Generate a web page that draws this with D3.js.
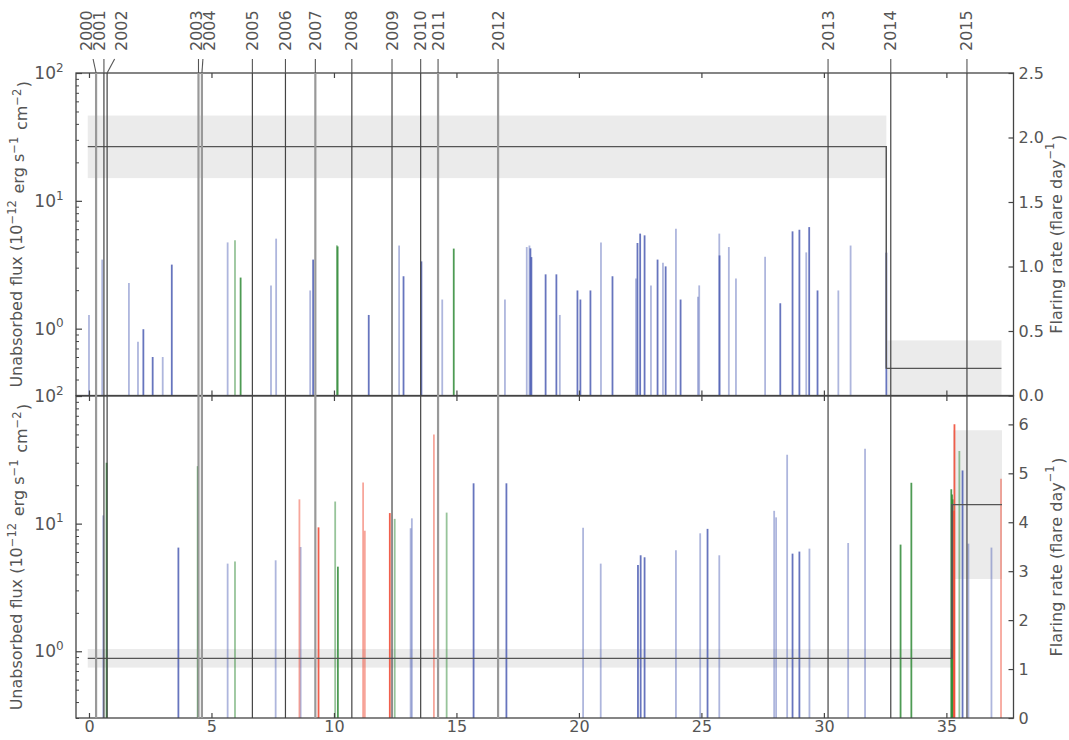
<!DOCTYPE html>
<html>
<head>
<meta charset="utf-8">
<script src="https://cdn.jsdelivr.net/npm/d3@7"></script>
<style>
  body { margin: 0; background: #fff; }
  text { font-family: "DejaVu Sans", sans-serif; fill: #555; }
</style>
</head>
<body>
<svg id="chart" width="1069" height="740"></svg>
<script>
// observation epochs (position on the concatenated time axis, days)
var years = [2000, 2001, 2002, 2003, 2004, 2005, 2006, 2007, 2008, 2009, 2010, 2011, 2012, 2013, 2014, 2015];
var yearT = [0.29, 0.61, 0.74, 4.47, 4.61, 6.67, 8.02, 9.24, 10.73, 12.37, 13.54, 14.25, 16.70, 30.17, 32.73, 35.84];

// top panel flares: [time, flux]
var topBlueFaint = [[0.0, 1.28], [0.54, 3.47], [1.63, 2.28], [2.0, 0.79], [3.01, 0.60], [5.66, 4.73], [7.43, 2.18],
  [7.64, 5.06], [9.03, 1.99], [12.66, 4.47], [14.42, 1.69], [16.98, 1.69], [17.87, 4.35], [17.98, 4.47], [19.22, 1.28],
  [20.9, 4.73], [22.33, 2.47], [22.94, 2.18], [23.43, 3.28], [23.96, 6.05], [24.86, 1.78], [24.91, 2.18], [25.73, 5.54],
  [26.12, 4.35], [26.41, 2.47], [27.6, 3.65], [29.28, 3.95], [30.59, 1.99], [31.09, 4.47]];
var topBlue = [[2.22, 0.99], [2.6, 0.60], [3.38, 3.17], [9.15, 3.47], [11.42, 1.28], [12.84, 2.57], [13.57, 3.36],
  [18.02, 4.25], [18.06, 3.63], [18.64, 2.66], [19.08, 2.66], [19.94, 1.99], [20.06, 1.69], [20.47, 1.99], [21.37, 2.57],
  [22.39, 4.68], [22.5, 5.54], [22.68, 5.37], [23.21, 3.47], [23.54, 3.07], [24.15, 1.69], [25.74, 3.74], [28.22, 1.58],
  [28.72, 5.77], [29.0, 5.94], [29.4, 6.23], [29.74, 1.99], [32.55, 3.93]];
var topGreenFaint = [[5.96, 4.91], [10.12, 4.49]];
var topGreen = [[6.19, 2.51], [10.15, 4.40], [14.89, 4.23]];

// bottom panel flares: [time, flux]
var botBlueFaint = [[0.58, 11.6], [5.66, 4.86], [7.62, 5.16], [8.64, 6.56], [13.13, 9.2], [13.18, 11.0], [20.17, 9.3],
  [20.89, 4.86], [23.96, 6.18], [24.95, 8.4], [25.73, 5.65], [27.97, 12.6], [28.05, 11.2], [28.5, 34.7], [29.41, 6.37],
  [30.99, 7.05], [31.68, 38.6], [35.9, 6.97], [36.84, 6.49]];
var botBlue = [[3.65, 6.49], [15.7, 20.7], [17.04, 20.7], [22.41, 4.74], [22.52, 5.65], [22.68, 5.45], [25.25, 9.1],
  [28.72, 5.82], [29.0, 6.04], [35.66, 26.1]];
var botGreenFaint = [[5.96, 5.04], [10.05, 14.9], [12.48, 10.9], [14.6, 12.2], [35.53, 37.0]];
var botGreen = [[0.72, 30.0], [4.44, 28.2], [10.16, 4.6], [33.13, 6.85], [33.57, 20.9], [35.2, 18.6], [35.23, 16.9], [35.26, 15.5]];
var botRedFaint = [[8.59, 15.5], [11.19, 21.0], [11.26, 8.8], [14.08, 50.0], [37.23, 22.5]];
var botRed = [[9.37, 9.35], [12.28, 12.1], [35.31, 12.6], [35.33, 60.0]];

// flaring rate steps (edges, rate, band low/high)
var topRateEdges = [-0.05, 32.55, 37.25];
var topRate = [1.93, 0.21];
var topRateLo = [1.685, 0];
var topRateHi = [2.17, 0.427];
var botRateEdges = [-0.05, 35.23, 37.27];
var botRate = [1.22, 4.36];
var botRateLo = [1.03, 2.84];
var botRateHi = [1.41, 5.88];

var xTicks = [0, 5, 10, 15, 20, 25, 30, 35];
var topRateTicks = [0, 0.5, 1.0, 1.5, 2.0, 2.5];
var botRateTicks = [0, 1, 2, 3, 4, 5, 6];

var svg = d3.select("#chart");
var left = 76, right = 1013.5;
var x = d3.scaleLinear().domain([-0.53, 37.74]).range([left, right]);

var greyYears = [2000, 2003, 2004, 2007, 2011, 2012];
var labelNudge = {2000: -9.5, 2001: -4, 2002: 14, 2003: -2, 2004: 7.5};

function sup(sel, txt) {
  sel.append("tspan").attr("dy", "-0.55em").style("font-size", "0.72em").text(txt);
  sel.append("tspan").attr("dy", "0.55em").text("\u200a");
}

function drawPanel(top, bottom, rateMax, rateTicks, rateFmt, edges, rate, lo, hi, series) {
  var y = d3.scaleLog().domain([0.3, 100]).range([bottom, top]);
  var yr = d3.scaleLinear().domain([0, rateMax]).range([bottom, top]);
  var g = svg.append("g");

  // uncertainty bands of the rate
  for (var i = 0; i < rate.length; i++) {
    g.append("rect")
      .attr("x", x(edges[i]) + (i ? 1 : 0))
      .attr("width", x(edges[i + 1]) - x(edges[i]) - (i ? 1 : 0))
      .attr("y", yr(Math.min(hi[i], rateMax)))
      .attr("height", yr(lo[i]) - yr(Math.min(hi[i], rateMax)))
      .attr("fill", "#ebebeb");
  }

  // flares
  series.forEach(function(s) {
    g.selectAll(null).data(s.data).enter().append("line")
      .attr("x1", function(d) { return x(d[0]); })
      .attr("x2", function(d) { return x(d[0]); })
      .attr("y1", bottom)
      .attr("y2", function(d) { return y(d[1]); })
      .attr("stroke", s.color)
      .attr("stroke-opacity", s.op)
      .attr("stroke-width", 1.8);
  });

  // rate step line
  var pts = [];
  for (var j = 0; j < rate.length; j++) {
    pts.push([x(edges[j]), yr(rate[j])]);
    pts.push([x(edges[j + 1]), yr(rate[j])]);
  }
  g.append("path")
    .attr("d", d3.line()(pts))
    .attr("fill", "none")
    .attr("stroke", "#555")
    .attr("stroke-width", 1.3);

  // x ticks (inside, top and bottom)
  g.append("g").attr("transform", "translate(0," + bottom + ")")
    .call(d3.axisBottom(x).tickValues(xTicks).tickSize(-5).tickSizeOuter(0).tickFormat(""))
    .call(function(a) { a.select(".domain").remove(); a.selectAll("line").attr("stroke", "#444").attr("stroke-width", 1.2); });
  g.append("g").attr("transform", "translate(0," + top + ")")
    .call(d3.axisTop(x).tickValues(xTicks).tickSize(-5).tickSizeOuter(0).tickFormat(""))
    .call(function(a) { a.select(".domain").remove(); a.selectAll("line").attr("stroke", "#444").attr("stroke-width", 1.2); });

  // log y axis, minor then major
  var minors = [];
  [0.1, 1, 10].forEach(function(dec) {
    for (var k = 2; k <= 9; k++) { var v = dec * k; if (v >= 0.3 && v < 100) minors.push(v); }
  });
  g.append("g").attr("transform", "translate(" + left + ",0)")
    .call(d3.axisLeft(y).tickValues(minors).tickSize(-3).tickSizeOuter(0).tickFormat(""))
    .call(function(a) { a.select(".domain").remove(); a.selectAll("line").attr("stroke", "#444"); });
  g.append("g").attr("transform", "translate(" + left + ",0)")
    .call(d3.axisLeft(y).tickValues([1, 10, 100]).tickSize(-6).tickSizeOuter(0).tickFormat(""))
    .call(function(a) { a.select(".domain").remove(); a.selectAll("line").attr("stroke", "#444").attr("stroke-width", 1.2); });
  [1, 10, 100].forEach(function(v) {
    var t = g.append("text")
      .attr("x", left - 27)
      .attr("y", y(v) + 6)
      .attr("text-anchor", "middle")
      .style("font-size", "17px")
      .text("10");
    t.append("tspan").attr("dy", "-0.6em").style("font-size", "12px").text(Math.round(Math.log10(v)));
  });

  // right rate axis
  g.append("g").attr("transform", "translate(" + right + ",0)")
    .call(d3.axisRight(yr).tickValues(rateTicks).tickSize(-5).tickPadding(5).tickSizeOuter(0).tickFormat(rateFmt))
    .call(function(a) {
      a.select(".domain").remove();
      a.selectAll("line").attr("stroke", "#444").attr("stroke-width", 1.2);
      a.selectAll("text").attr("fill", null).style("font-size", "16px").style("font-family", "DejaVu Sans");
    });

  // frame
  g.append("rect")
    .attr("x", left).attr("y", top)
    .attr("width", right - left).attr("height", bottom - top)
    .attr("fill", "none").attr("stroke", "#444").attr("stroke-width", 1.3);

  // axis titles
  var lt = g.append("text")
    .attr("transform", "translate(22," + ((top + bottom) / 2) + ") rotate(-90)")
    .attr("text-anchor", "middle")
    .style("font-size", "16px")
    .text("Unabsorbed flux (10");
  sup(lt, "\u221212");
  lt.append("tspan").text(" erg s");
  sup(lt, "\u22121");
  lt.append("tspan").text(" cm");
  sup(lt, "\u22122");
  lt.append("tspan").text(")");

  var rt = g.append("text")
    .attr("transform", "translate(1056," + ((top + bottom) / 2) + ") rotate(-90)")
    .attr("text-anchor", "middle")
    .attr("dominant-baseline", "central")
    .style("font-size", "16px")
    .text("Flaring rate (flare day");
  sup(rt, "\u22121");
  rt.append("tspan").text(")");
}

var blue = "#4c5db3", green = "#2f8a36", red = "#f04e38";

drawPanel(73, 395.5, 2.5, topRateTicks, d3.format(".1f"), topRateEdges, topRate, topRateLo, topRateHi, [
  {data: topBlueFaint, color: blue, op: 0.45},
  {data: topGreenFaint, color: green, op: 0.5},
  {data: topBlue, color: blue, op: 0.85},
  {data: topGreen, color: green, op: 0.85}
]);
drawPanel(396, 718, 6.58, botRateTicks, d3.format("d"), botRateEdges, botRate, botRateLo, botRateHi, [
  {data: botBlueFaint, color: blue, op: 0.45},
  {data: botGreenFaint, color: green, op: 0.5},
  {data: botRedFaint, color: red, op: 0.5},
  {data: botBlue, color: blue, op: 0.85},
  {data: botGreen, color: green, op: 0.85},
  {data: botRed, color: red, op: 0.9}
]);

// step joins
var yTopRate = d3.scaleLinear().domain([0, 2.5]).range([395.5, 73]);
var yBotRate = d3.scaleLinear().domain([0, 6.58]).range([718, 396]);
svg.append("line")
  .attr("x1", x(topRateEdges[1])).attr("x2", x(topRateEdges[1]))
  .attr("y1", yTopRate(topRate[0])).attr("y2", yTopRate(topRate[1]))
  .attr("stroke", "#555").attr("stroke-width", 1.3);
svg.append("line")
  .attr("x1", x(botRateEdges[1])).attr("x2", x(botRateEdges[1]))
  .attr("y1", yBotRate(botRate[0])).attr("y2", yBotRate(botRate[1]))
  .attr("stroke", "#555").attr("stroke-width", 1.3);

// bottom x tick labels
svg.append("g").attr("transform", "translate(0,718)")
  .call(d3.axisBottom(x).tickValues(xTicks).tickSize(0).tickPadding(3).tickFormat(d3.format("d")))
  .call(function(a) {
    a.select(".domain").remove();
    a.selectAll("text").attr("fill", null).style("font-size", "16px").style("font-family", "DejaVu Sans");
  });

// epoch lines with labels
var yg = svg.append("g");
years.forEach(function(yr, i) {
  var lx = x(yearT[i]);
  var grey = greyYears.indexOf(yr) >= 0;
  var tx = lx + (labelNudge[yr] || 0);
  var sx = tx + Math.max(-6.5, Math.min(6.5, lx - tx));
  yg.append("line")
    .attr("x1", lx).attr("x2", lx).attr("y1", 73).attr("y2", 718)
    .attr("stroke", grey ? "#999" : "#444")
    .attr("stroke-width", grey ? 2.2 : 1.2);
  yg.append("line")
    .attr("x1", sx).attr("y1", 59).attr("x2", lx).attr("y2", 73)
    .attr("stroke", "#555").attr("stroke-width", 1.1);
  yg.append("text")
    .attr("transform", "translate(" + tx + ",51) rotate(-90)")
    .attr("dominant-baseline", "central")
    .style("font-size", "16px")
    .text(yr);
});
</script>
</body>
</html>
